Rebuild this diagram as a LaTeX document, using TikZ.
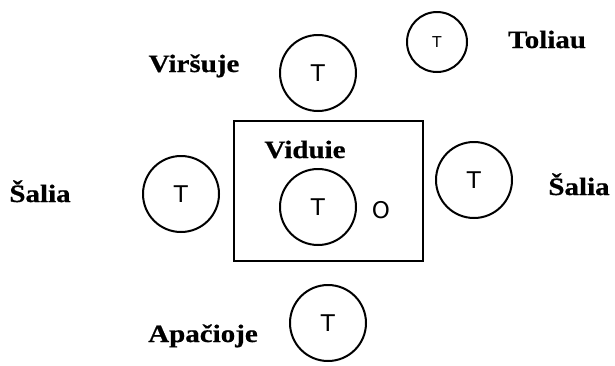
\documentclass[tikz,border=0pt]{standalone}
\usepackage{fontspec}
\newfontfamily\lblfont[FakeStretch=1.16,FakeBold=0.6]{Liberation Serif}
\newfontfamily\tfont{DejaVu Sans}
\tikzset{
  lbl/.style={font=\lblfont\bfseries\fontsize{25}{28}\selectfont, anchor=base, inner sep=0pt},
  ring/.style={draw, line width=2pt, circle, minimum size=76pt, inner sep=0pt, font=\tfont\fontsize{23}{26}\selectfont},
  smallring/.style={ring, minimum size=60pt, font=\tfont\fontsize{15}{17}\selectfont},
  frame/.style={draw, line width=2.6pt}
}
\begin{document}
\begin{tikzpicture}[x=1pt,y=-1pt]
\useasboundingbox (0,0) rectangle (615,365);
\draw[frame] (234,121) rectangle (423,261);
\node[ring] (top) at (318,73) {T};
\node[smallring] (far) at (437,42) {T};
\node[ring] (left) at (181,194) {T};
\node[ring] (mid) at (318,207) {T};
\node[ring] (right) at (474,180) {T};
\node[ring] (bottom) at (328,323) {T};
\node[font=\tfont\fontsize{23}{26}\selectfont, inner sep=0pt] (o) at (381,210) {O};
\node[lbl] (virsuje) at (194,72) {Viršuje};
\node[lbl] (toliau) at (547,48) {Toliau};
\node[lbl] (viduie) at (305,158) {Viduie};
\node[lbl] (apacioje) at (203,342) {Apačioje};
\node[lbl] (salial) at (40,202) {Šalia};
\node[lbl] (saliar) at (579,195) {Šalia};
\end{tikzpicture}
\end{document}
